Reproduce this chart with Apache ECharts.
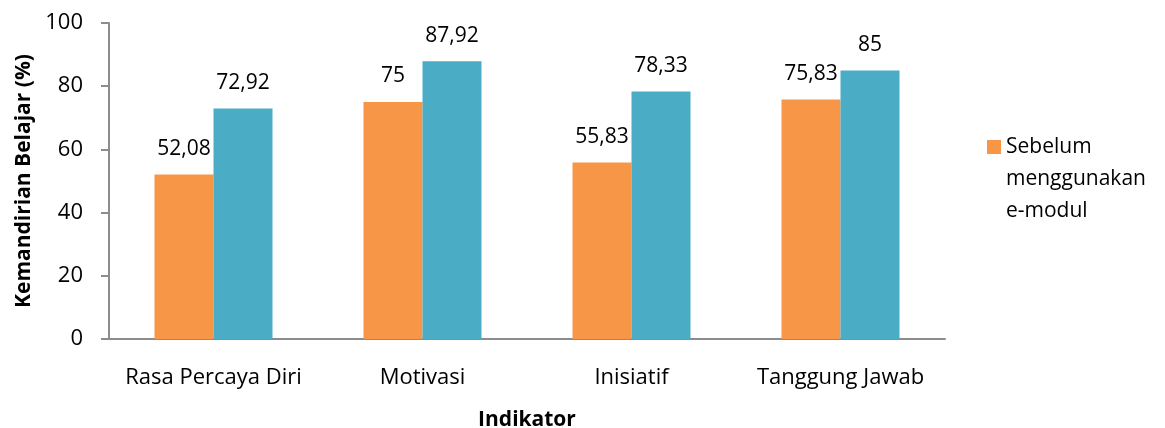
<!DOCTYPE html>
<html>
<head>
<meta charset="utf-8">
<script src="https://cdn.jsdelivr.net/npm/echarts@6/dist/echarts.min.js"></script>
<style>
  html, body { margin: 0; padding: 0; background: #fff; }
  #chart { width: 1165px; height: 428px; }
</style>
</head>
<body>
<div id="chart"></div>
<script>
// data
var indikator = ['Rasa Percaya Diri', 'Motivasi', 'Inisiatif', 'Tanggung Jawab'];
var sebelum = [52.08, 75, 55.83, 75.83];
var sesudah = [72.92, 87.92, 78.33, 85];
var yTicks = [0, 20, 40, 60, 80, 100];

var font = 'Open Sans';
var chart = echarts.init(document.getElementById('chart'));

// angka pakai koma
function koma(p) {
  return String(p.value).replace('.', ',');
}

var option = {
  textStyle: { fontFamily: font },
  animation: false,
  grid: { left: 109, top: 23, width: 836, height: 316, outerBoundsMode: 'none' },
  legend: {
    data: ['Sebelum menggunakan e-modul'],
    orient: 'vertical',
    left: 987,
    top: 131,
    padding: 0,
    itemWidth: 14,
    itemHeight: 96,
    // kotak kecil di baris pertama saja
    icon: 'path://M0,9L14,9L14,23L0,23Z M0,0 M14,96',
    formatter: function () { return 'Sebelum\nmenggunakan\ne-modul'; },
    textStyle: { fontFamily: font, fontSize: 21, color: '#000', lineHeight: 32 }
  },
  xAxis: {
    type: 'category',
    data: indikator,
    name: 'Indikator',
    nameLocation: 'middle',
    nameGap: 71,
    nameTextStyle: { fontFamily: font, fontSize: 21, fontWeight: 'bold', color: '#000' },
    axisLine: { lineStyle: { color: '#8c8c8c', width: 2 } },
    axisTick: { show: false },
    axisLabel: { interval: 0, fontFamily: font, fontSize: 22, color: '#000', margin: 28 }
  },
  yAxis: {
    type: 'value',
    min: yTicks[0],
    max: yTicks[yTicks.length - 1],
    interval: 20,
    name: 'Kemandirian Belajar (%)',
    nameLocation: 'middle',
    nameGap: 74,
    nameTextStyle: { fontFamily: font, fontSize: 21, fontWeight: 'bold', color: '#000' },
    axisLine: { show: true, lineStyle: { color: '#8c8c8c', width: 2 } },
    axisTick: { show: true, length: 8, lineStyle: { color: '#8c8c8c', width: 2 } },
    splitLine: { show: false },
    axisLabel: { fontFamily: font, fontSize: 22, color: '#000', margin: 26 }
  },
  series: [
    {
      name: 'Sebelum menggunakan e-modul',
      type: 'bar',
      data: sebelum,
      barWidth: 59,
      barGap: '0%',
      itemStyle: { color: '#F79646' },
      label: { show: true, position: 'top', distance: 15, fontFamily: font, fontSize: 21, color: '#000', formatter: koma }
    },
    {
      name: 'Sesudah menggunakan e-modul',
      type: 'bar',
      data: sesudah,
      barWidth: 59,
      itemStyle: { color: '#4BACC6' },
      label: { show: true, position: 'top', distance: 15, fontFamily: font, fontSize: 21, color: '#000', formatter: koma }
    }
  ]
};
chart.setOption(option);
</script>
</body>
</html>
